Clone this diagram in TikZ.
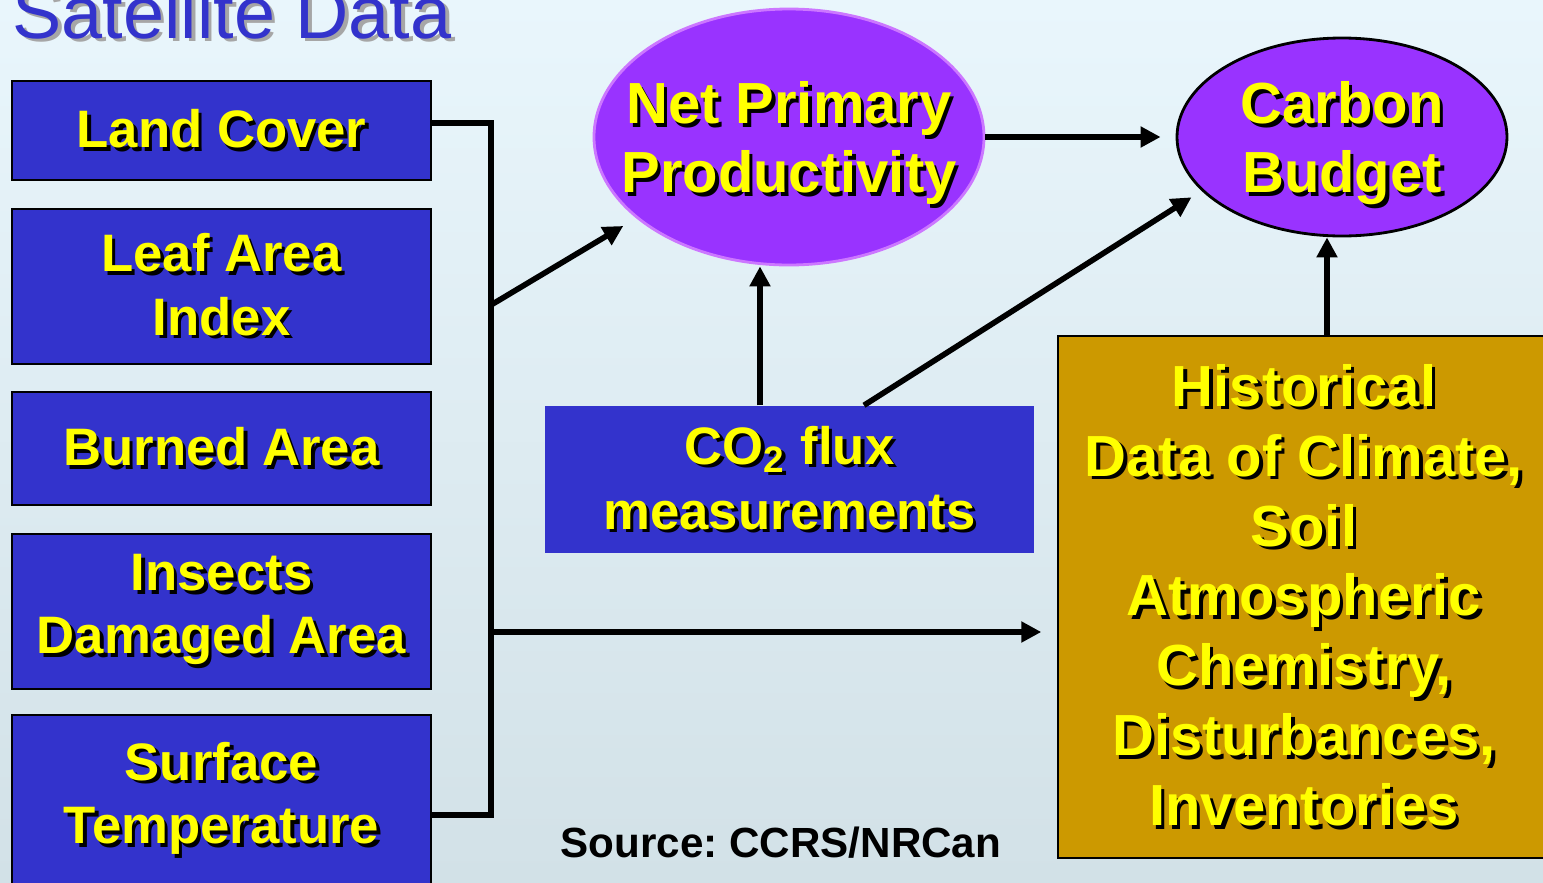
\documentclass[tikz,border=0pt]{standalone}
\usepackage{fontspec}
\setmainfont{Liberation Sans}
\usetikzlibrary{shapes.geometric,arrows.meta}

\definecolor{boxblue}{HTML}{3333CC}
\definecolor{nppviolet}{HTML}{9933FF}
\definecolor{nppedge}{HTML}{CC77FF}
\definecolor{histgold}{HTML}{CC9900}
\definecolor{labelyellow}{HTML}{FFFF00}
\definecolor{skytop}{HTML}{E9F6FC}
\definecolor{skybottom}{HTML}{D2E1E7}

% text with a drop shadow
\newcommand{\sh}[2][black]{\leavevmode\rlap{\kern1pt\raisebox{-1pt}{\color{#1}#2}}#2}

\tikzset{
    satbox/.style ={
        draw=black,
        fill=boxblue,
        text=labelyellow,
        minimum width=4.19cm,
        inner sep=0pt,
        align=center,
        font=\bfseries\fontsize{15}{18}\selectfont
    },
    fluxbox/.style ={
        fill=boxblue,
        text=labelyellow,
        minimum width=4.89cm,
        minimum height=1.47cm,
        inner sep=0pt,
        align=center,
        font=\bfseries\fontsize{15}{18.5}\selectfont
    },
    histbox/.style ={
        draw=black,
        fill=histgold,
        text=labelyellow,
        minimum width=4.92cm,
        minimum height=5.22cm,
        inner sep=0pt,
        align=center,
        font=\bfseries\fontsize{16.5}{19.9}\selectfont
    },
    oval/.style ={
        shape=ellipse,
        fill=nppviolet,
        line width=0.8pt,
        inner sep=0pt
    },
    ovaltext/.style ={
        text=labelyellow,
        align=center,
        inner sep=0pt,
        yshift=-0.8mm,
        font=\bfseries\fontsize{16.5}{19.6}\selectfont
    },
    heading/.style ={
        anchor=base west,
        inner sep=0pt,
        text=boxblue,
        font=\fontsize{21}{25}\selectfont
    },
    source/.style ={
        anchor=base,
        inner sep=0pt,
        font=\bfseries\fontsize{12}{14}\selectfont
    },
    link/.style ={
        draw=black,
        line width=1.6pt
    },
    arr/.style ={
        link,
        -{Triangle[length=2mm,width=2mm]}
    }
}

\begin{document}
\begin{tikzpicture}
    \shade[top color=skytop, bottom color=skybottom] (0,0) rectangle (15.43,8.82);
    \useasboundingbox (0,0) rectangle (15.43,8.82);
    \clip (0,0) rectangle (15.43,8.82);

    \node[heading] (title) at (0.12,8.44) {\sh[gray!70]{Satellite Data}};

    \node[satbox, minimum height=0.99cm] (land) at (2.215,7.515) {\sh{Land Cover}};
    \node[satbox, minimum height=1.55cm] (lai) at (2.215,5.955) {\sh{Leaf Area}\\\sh{Index}};
    \node[satbox, minimum height=1.13cm] (burn) at (2.215,4.335) {\sh{Burned Area}};
    \node[satbox, minimum height=1.55cm] (insect) at (2.215,2.705) {\sh{Insects}\\\sh{Damaged Area}};
    \node[satbox, minimum height=1.70cm] (surf) at (2.215,0.82) {\sh{Surface}\\\sh{Temperature}};

    \node[oval, draw=nppedge, minimum width=3.9cm, minimum height=2.56cm,
          label={[ovaltext]center:{\sh{Net Primary}\\\sh{Productivity}}}] (npp) at (7.89,7.45) {};
    \node[oval, draw=black, minimum width=3.3cm, minimum height=1.98cm,
          label={[ovaltext]center:{\sh{Carbon}\\\sh{Budget}}}] (budget) at (13.42,7.45) {};

    \node[fluxbox] (flux) at (7.895,4.025) {\sh{CO\textsubscript{2} flux}\\\sh{measurements}};
    \node[histbox] (hist) at (13.04,2.85) {\sh{Historical}\\\sh{Data of Climate,}\\\sh{Soil}\\
        \sh{Atmospheric}\\\sh{Chemistry,}\\\sh{Disturbances,}\\\sh{Inventories}};

    \node[source] (src) at (7.81,0.25) {Source:\ CCRS/NRCan};

    \coordinate (bustop) at (4.91,7.59);
    \coordinate (busbot) at (4.91,0.67);
    \coordinate (busnpp) at (4.91,5.77);
    \coordinate (bushist) at (4.91,2.50);

    \draw[link] (land.east |- bustop) -- (bustop) -- (busbot) -- (surf.east |- busbot);
    \draw[arr, shorten >=1.5mm] (busnpp) -- (npp.208);
    \draw[arr, shorten >=1.6mm] (bushist) -- (bushist -| hist.west);
    \draw[arr, shorten >=1.5mm] (npp.east) -- (budget.west);
    \draw[arr] ([xshift=-2.95mm]flux.north) -- ([xshift=-2.95mm]flux.north |- npp.south);
    \draw[arr, shorten >=1.2mm] ([xshift=7.45mm]flux.north) -- (budget.201);
    \draw[arr] ([xshift=2.3mm]hist.north) -- ([xshift=2.3mm]hist.north |- budget.south);
\end{tikzpicture}
\end{document}
